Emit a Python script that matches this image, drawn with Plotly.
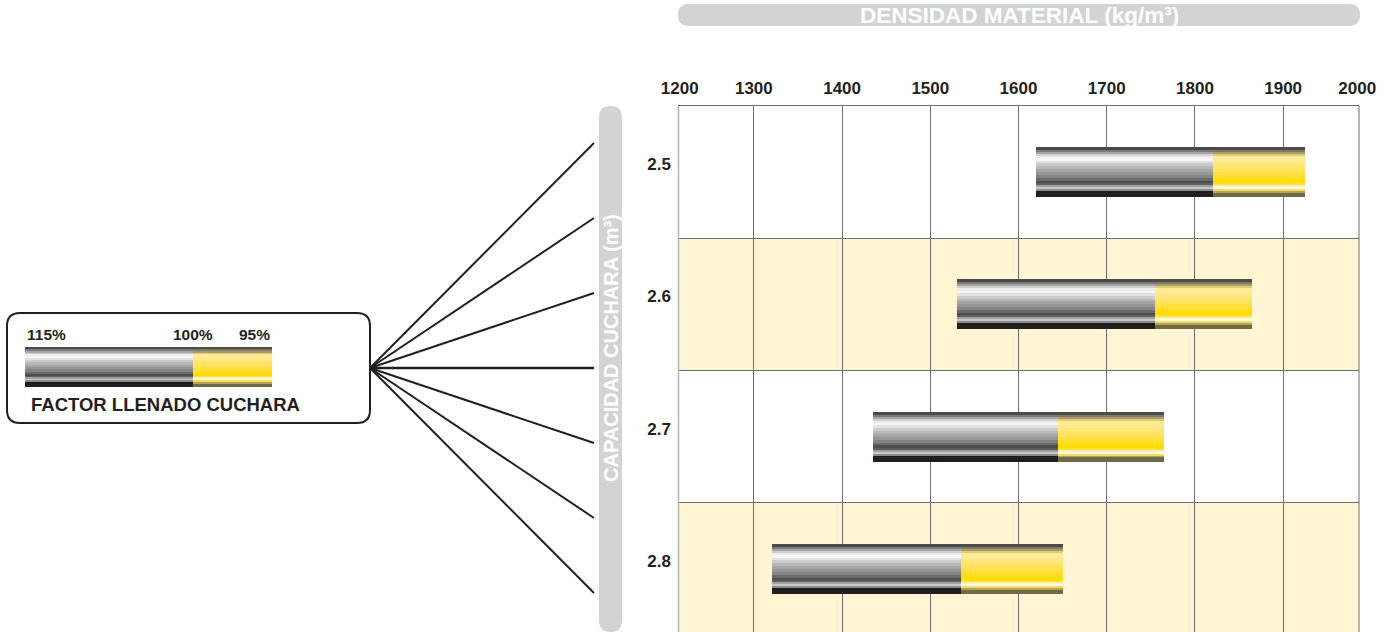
import plotly.graph_objects as go

# ---------------- data ----------------
CAPACITIES = ["2.5", "2.6", "2.7", "2.8"]            # bucket capacity (m3)
DENS_115 = [1620, 1530, 1435, 1320]                  # density at 115% fill factor
DENS_100 = [1820, 1755, 1645, 1535]                  # density at 100% fill factor
DENS_95 = [1925, 1865, 1765, 1650]                   # density at 95% fill factor
X_TICKS = [1200, 1300, 1400, 1500, 1600, 1700, 1800, 1900, 2000]
LEGEND_LABELS = ["115%", "100%", "95%"]

TITLE_X = "DENSIDAD MATERIAL (kg/m³)"
TITLE_Y = "CAPACIDAD CUCHARA (m³)"
LEGEND_TITLE = "FACTOR LLENADO CUCHARA"

# ---------------- style ----------------
W, H = 1396, 632
FONT = "Liberation Sans, Arial, Helvetica, sans-serif"
INK = "#231f20"
GRID = "#6d6e71"
PILL = "#d1d3d4"
ROW_ALT = "#fff5d3"
X_RANGE = [1214, 1986]

# stripe profile of the cylinder-like bars: (relative height, grey colour, yellow colour)
PROFILE = [
    (9, "#4a4a4a", "#4e4c45"), (6, "#7b7b7b", "#7d7a66"), (6, "#a5a5a5", "#a89d68"),
    (6, "#cfcfcf", "#dccb72"), (7, "#ececec", "#ffe993"), (7, "#f7f7f7", "#ffeb9c"),
    (8, "#e2e2e2", "#ffe88a"), (9, "#cbcbcb", "#ffe67a"), (9, "#b8b8b8", "#ffe46a"),
    (9, "#a6a6a6", "#ffe257"), (9, "#969696", "#ffe044"), (9, "#838383", "#ffde2e"),
    (8, "#6a6a6a", "#ffdc14"), (7, "#4e4e4e", "#ffdb00"), (6, "#5e5e5e", "#ffe030"),
    (6, "#a0a0a0", "#fff2b8"), (6, "#c8c8c8", "#fffbe6"), (6, "#8c8c8c", "#f3dc6a"),
    (6, "#1f1b1c", "#b8a24c"), (13, "#231f20", "#6f6a4c"),
]


def X(px):
    return px / W


def Y(py):
    return 1 - py / H


fig = go.Figure()


def add_cylinder(ys, starts, mids, ends, thick, xaxis, yaxis, px_per_unit):
    total = sum(p[0] for p in PROFILE)
    cum = 0.0
    eps = 0.6 / px_per_unit  # tiny overlap so stripes do not show seams
    for i, (h, grey, yellow) in enumerate(PROFILE):
        frac = h / total
        off = -thick / 2 + cum * thick
        wdt = frac * thick + (eps if i < len(PROFILE) - 1 else 0)
        fig.add_trace(go.Bar(
            orientation="h", y=ys, base=starts,
            x=[m - s for s, m in zip(starts, mids)],
            width=wdt, offset=off, marker=dict(color=grey, line=dict(width=0)),
            xaxis=xaxis, yaxis=yaxis, hoverinfo="skip", showlegend=False))
        fig.add_trace(go.Bar(
            orientation="h", y=ys, base=mids,
            x=[e - m for m, e in zip(mids, ends)],
            width=wdt, offset=off, marker=dict(color=yellow, line=dict(width=0)),
            xaxis=xaxis, yaxis=yaxis, hoverinfo="skip", showlegend=False))
        cum += frac


rows = list(range(len(CAPACITIES)))
PLOT_L, PLOT_R, PLOT_T = 678, 1359, 106
row_px = 132.3
rows_visible = (H - PLOT_T) / row_px

add_cylinder(rows, DENS_115, DENS_100, DENS_95, 0.378, "x", "y", row_px)

# legend mini-bar (its own little axis)
LEG_SPLIT = 0.679
add_cylinder([0], [0.0], [LEG_SPLIT], [1.0], 1.0, "x2", "y2", 40)

# tick label positions: end labels pinned inside the visible range
tick_pos = [min(max(v, X_RANGE[0] + 2), X_RANGE[1] - 2) for v in X_TICKS]

fig.update_layout(
    width=W, height=H,
    margin=dict(l=0, r=0, t=0, b=0, pad=0, autoexpand=False),
    paper_bgcolor="white", plot_bgcolor="white",
    barmode="overlay", bargap=0, showlegend=False,
    font=dict(family=FONT, color=INK),
    xaxis=dict(
        domain=[X(PLOT_L), X(PLOT_R)], range=X_RANGE, side="top", anchor="y",
        automargin=False,
        tickmode="array", tickvals=tick_pos, ticktext=[str(v) for v in X_TICKS],
        tickfont=dict(family=FONT, size=17, color=INK, weight="bold"),
        ticks="", ticklabelstandoff=4, showgrid=False, zeroline=False,
        showline=True, linecolor=GRID, linewidth=1,
        minor=dict(tickmode="array", tickvals=X_TICKS[1:-1], showgrid=True,
                   gridcolor=GRID, gridwidth=1, ticks=""),
        fixedrange=True,
    ),
    yaxis=dict(
        domain=[0, Y(PLOT_T)], range=[rows_visible - 0.5, -0.5], anchor="x",
        automargin=False,
        tickmode="array", tickvals=rows, ticktext=CAPACITIES,
        tickfont=dict(family=FONT, size=17, color=INK, weight="bold"),
        ticks="", ticklabelstandoff=6, ticklabelshift=8,
        showgrid=False, zeroline=False, showline=False,
        minor=dict(tickmode="array", tickvals=[r + 0.5 for r in rows[:-1]],
                   showgrid=True, gridcolor=GRID, gridwidth=1, ticks=""),
        fixedrange=True,
    ),
    xaxis2=dict(domain=[X(25), X(272)], range=[0, 1], anchor="y2", visible=False,
                automargin=False, fixedrange=True),
    yaxis2=dict(domain=[Y(387), Y(347)], range=[0.5, -0.5], anchor="x2", visible=False,
                automargin=False, fixedrange=True),
)

shapes = []
# alternating row backgrounds
for r in rows:
    if r % 2 == 1:
        shapes.append(dict(type="rect", xref="x domain", yref="y", x0=0, x1=1,
                           y0=r - 0.5, y1=r + 0.5, fillcolor=ROW_ALT,
                           line=dict(width=0), layer="below"))
# plot borders (left light, right dark)
shapes.append(dict(type="line", xref="paper", yref="paper", x0=X(PLOT_L + 0.5), x1=X(PLOT_L + 0.5),
                   y0=0, y1=Y(PLOT_T), line=dict(color="#b3b3b3", width=1.5)))
shapes.append(dict(type="line", xref="paper", yref="paper", x0=X(PLOT_R), x1=X(PLOT_R),
                   y0=0, y1=Y(PLOT_T), line=dict(color=GRID, width=1)))


def pill_h(x0, x1, y0, y1):
    r = (y1 - y0) / 2
    return (f"M {X(x0 + r)} {Y(y0)} L {X(x1 - r)} {Y(y0)} "
            f"Q {X(x1)} {Y(y0)} {X(x1)} {Y(y0 + r)} Q {X(x1)} {Y(y1)} {X(x1 - r)} {Y(y1)} "
            f"L {X(x0 + r)} {Y(y1)} Q {X(x0)} {Y(y1)} {X(x0)} {Y(y0 + r)} "
            f"Q {X(x0)} {Y(y0)} {X(x0 + r)} {Y(y0)} Z")


def pill_v(x0, x1, y0, y1):
    r = (x1 - x0) / 2
    return (f"M {X(x0)} {Y(y0 + r)} Q {X(x0)} {Y(y0)} {X(x0 + r)} {Y(y0)} "
            f"Q {X(x1)} {Y(y0)} {X(x1)} {Y(y0 + r)} L {X(x1)} {Y(y1 - r)} "
            f"Q {X(x1)} {Y(y1)} {X(x0 + r)} {Y(y1)} Q {X(x0)} {Y(y1)} {X(x0)} {Y(y1 - r)} Z")


def rrect(x0, x1, y0, y1, r):
    return (f"M {X(x0 + r)} {Y(y0)} L {X(x1 - r)} {Y(y0)} Q {X(x1)} {Y(y0)} {X(x1)} {Y(y0 + r)} "
            f"L {X(x1)} {Y(y1 - r)} Q {X(x1)} {Y(y1)} {X(x1 - r)} {Y(y1)} "
            f"L {X(x0 + r)} {Y(y1)} Q {X(x0)} {Y(y1)} {X(x0)} {Y(y1 - r)} "
            f"L {X(x0)} {Y(y0 + r)} Q {X(x0)} {Y(y0)} {X(x0 + r)} {Y(y0)} Z")


shapes.append(dict(type="path", xref="paper", yref="paper", path=pill_h(678, 1360, 4, 26),
                   fillcolor=PILL, line=dict(width=0)))
shapes.append(dict(type="path", xref="paper", yref="paper", path=pill_v(599, 622, 106, 632),
                   fillcolor=PILL, line=dict(width=0)))
# legend box
shapes.append(dict(type="path", xref="paper", yref="paper", path=rrect(7, 370, 313, 423, 13),
                   fillcolor="rgba(0,0,0,0)", line=dict(color=INK, width=2)))
# fan of lines from the legend to the capacity axis
ox, oy = 370, 368
for k in range(7):
    ey = 143 + 75 * k
    shapes.append(dict(type="line", xref="paper", yref="paper", x0=X(ox), y0=Y(oy),
                       x1=X(594), y1=Y(ey),
                       line=dict(color=INK, width=2.6 if k == 3 else 2)))
fig.update_layout(shapes=shapes)

annotations = [
    dict(text=TITLE_X, xref="paper", yref="paper", x=X(1019), y=Y(15.5),
         xanchor="center", yanchor="middle", showarrow=False,
         font=dict(family=FONT, size=22.5, color="white", weight="bold")),
    dict(text=TITLE_Y, xref="paper", yref="paper", x=X(611), y=Y(348),
         xanchor="center", yanchor="middle", showarrow=False, textangle=-90,
         font=dict(family=FONT, size=20, color="white", weight="bold")),
    dict(text=LEGEND_TITLE, xref="paper", yref="paper", x=X(29), y=Y(404),
         xanchor="left", yanchor="middle", showarrow=False,
         font=dict(family=FONT, size=18.5, color=INK, weight="bold")),
]
for lbl, pos, anc in zip(LEGEND_LABELS, [0.0, LEG_SPLIT, 1.0], ["left", "center", "right"]):
    annotations.append(dict(text=lbl, xref="x2", yref="paper", x=pos, y=Y(334),
                            xanchor=anc, yanchor="middle", showarrow=False,
                            font=dict(family=FONT, size=15.5, color=INK, weight="bold")))
fig.update_layout(annotations=annotations)

fig.write_html("out.html", config={"displayModeBar": False, "staticPlot": True})
